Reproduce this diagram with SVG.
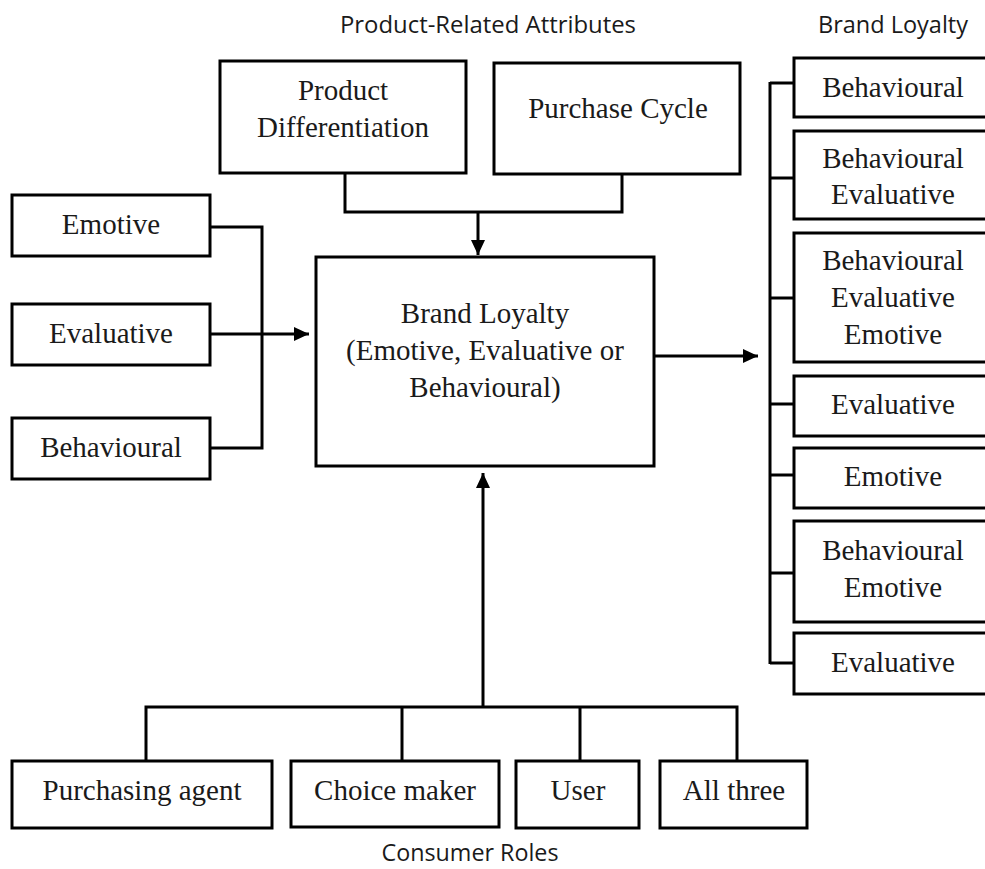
<svg xmlns="http://www.w3.org/2000/svg" width="985" height="869" viewBox="0 0 985 869">
<style>
.box{fill:#fff;stroke:#000;stroke-width:3}
.t{font-family:"Liberation Serif","Times New Roman",serif;font-size:29px;fill:#1a1a1a;text-anchor:middle}
.h{font-family:"Open Sans","Liberation Sans",sans-serif;font-size:23px;fill:#1a1a1a;text-anchor:middle}
.c{fill:none;stroke:#000;stroke-width:3}
</style>
<defs>
<marker id="ah" markerUnits="userSpaceOnUse" markerWidth="16" markerHeight="16" viewBox="0 0 16 16" refX="15" refY="8" orient="auto">
<path d="M0,1 L15,8 L0,15 Z" fill="#000"/>
</marker>
</defs>
<rect width="985" height="869" fill="#fff"/>

<g id="titles">
<text class="h" x="488" y="33" textLength="296" lengthAdjust="spacingAndGlyphs">Product-Related Attributes</text>
<text class="h" x="893" y="33" textLength="150" lengthAdjust="spacingAndGlyphs">Brand Loyalty</text>
<text class="h" x="470" y="861" textLength="177" lengthAdjust="spacingAndGlyphs">Consumer Roles</text>
</g>

<g id="connectors">
<polyline class="c" points="345,173 345,212 622,212 622,174"/>
<line class="c" x1="478" y1="212" x2="478" y2="255" marker-end="url(#ah)"/>
<polyline class="c" points="210,227 262,227 262,448 210,448"/>
<line class="c" x1="210" y1="334" x2="309" y2="334" marker-end="url(#ah)"/>
<line class="c" x1="654" y1="356" x2="758" y2="356" marker-end="url(#ah)"/>
<line class="c" x1="770" y1="82" x2="770" y2="664"/>
<line class="c" x1="770" y1="83" x2="794" y2="83"/>
<line class="c" x1="770" y1="178" x2="794" y2="178"/>
<line class="c" x1="770" y1="298" x2="794" y2="298"/>
<line class="c" x1="770" y1="404" x2="794" y2="404"/>
<line class="c" x1="770" y1="475" x2="794" y2="475"/>
<line class="c" x1="770" y1="573" x2="794" y2="573"/>
<line class="c" x1="770" y1="663" x2="794" y2="663"/>
<line class="c" x1="483" y1="707" x2="483" y2="473" marker-end="url(#ah)"/>
<polyline class="c" points="146,761 146,707 737,707 737,761"/>
<line class="c" x1="402" y1="707" x2="402" y2="761"/>
<line class="c" x1="580" y1="707" x2="580" y2="761"/>
</g>

<g id="product-differentiation">
<rect class="box" x="220" y="61" width="246" height="112"/>
<text class="t" x="343" y="100">Product</text>
<text class="t" x="343" y="137">Differentiation</text>
</g>
<g id="purchase-cycle">
<rect class="box" x="494" y="63" width="246" height="111"/>
<text class="t" x="618" y="118">Purchase Cycle</text>
</g>

<g id="left-emotive">
<rect class="box" x="12" y="195" width="198" height="61"/>
<text class="t" x="111" y="234">Emotive</text>
</g>
<g id="left-evaluative">
<rect class="box" x="12" y="304" width="198" height="61"/>
<text class="t" x="111" y="343">Evaluative</text>
</g>
<g id="left-behavioural">
<rect class="box" x="12" y="418" width="198" height="61"/>
<text class="t" x="111" y="457">Behavioural</text>
</g>

<g id="brand-loyalty-main">
<rect class="box" x="316" y="257" width="338" height="209"/>
<text class="t" x="485" y="323">Brand Loyalty</text>
<text class="t" x="485" y="360">(Emotive, Evaluative or</text>
<text class="t" x="485" y="397">Behavioural)</text>
</g>

<g id="r1">
<rect class="box" x="794" y="58" width="200" height="59"/>
<text class="t" x="893" y="97">Behavioural</text>
</g>
<g id="r2">
<rect class="box" x="794" y="131" width="200" height="88"/>
<text class="t" x="893" y="168">Behavioural</text>
<text class="t" x="893" y="204">Evaluative</text>
</g>
<g id="r3">
<rect class="box" x="794" y="233" width="200" height="129"/>
<text class="t" x="893" y="270">Behavioural</text>
<text class="t" x="893" y="307">Evaluative</text>
<text class="t" x="893" y="344">Emotive</text>
</g>
<g id="r4">
<rect class="box" x="794" y="376" width="200" height="60"/>
<text class="t" x="893" y="414">Evaluative</text>
</g>
<g id="r5">
<rect class="box" x="794" y="448" width="200" height="60"/>
<text class="t" x="893" y="486">Emotive</text>
</g>
<g id="r6">
<rect class="box" x="794" y="521" width="200" height="101"/>
<text class="t" x="893" y="560">Behavioural</text>
<text class="t" x="893" y="597">Emotive</text>
</g>
<g id="r7">
<rect class="box" x="794" y="633" width="200" height="61"/>
<text class="t" x="893" y="672">Evaluative</text>
</g>

<g id="purchasing-agent">
<rect class="box" x="12" y="761" width="260" height="67"/>
<text class="t" x="142" y="800">Purchasing agent</text>
</g>
<g id="choice-maker">
<rect class="box" x="291" y="761" width="208" height="66"/>
<text class="t" x="395" y="800">Choice maker</text>
</g>
<g id="user">
<rect class="box" x="516" y="761" width="123" height="67"/>
<text class="t" x="578" y="800">User</text>
</g>
<g id="all-three">
<rect class="box" x="660" y="761" width="147" height="67"/>
<text class="t" x="734" y="800">All three</text>
</g>
</svg>
